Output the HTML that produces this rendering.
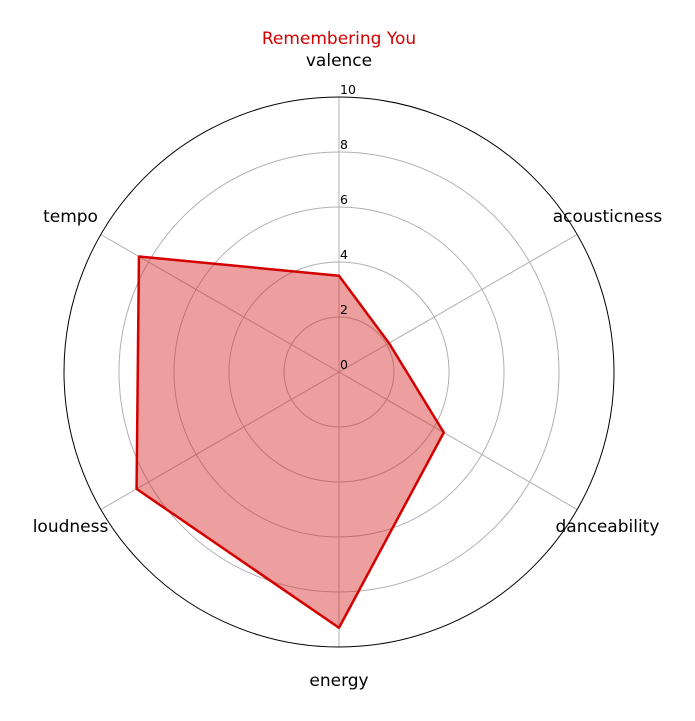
<!DOCTYPE html>
<html><head><meta charset="utf-8"><style>
body{margin:0;background:#fff;}
svg{display:block;font-family:"DejaVu Sans","Liberation Sans",sans-serif;}
</style></head><body>
<svg id="chart" width="695" height="721"></svg>
<script>
const categories=["valence","acousticness","danceability","energy","loudness","tempo"];
const values=[3.5,2.1,4.4,9.3,8.5,8.4];
const ticks=[0,2,4,6,8,10];
const title="Remembering You";
const NS="http://www.w3.org/2000/svg";
const svg=document.getElementById("chart");
const cx=339,cy=372,R=275,vmax=10;
function rScale(v){return v/vmax*R;}
function ang(i){return -Math.PI/2+i*2*Math.PI/categories.length;}
function pt(i,v){const a=ang(i),r=rScale(v);return [cx+r*Math.cos(a),cy+r*Math.sin(a)];}
function mk(tag,attrs,txt){const e=document.createElementNS(NS,tag);for(const k in attrs)e.setAttribute(k,attrs[k]);if(txt!==undefined)e.textContent=txt;svg.appendChild(e);return e;}
ticks.forEach(t=>{if(t>0&&t<vmax){const c=mk("circle",{cx:cx,cy:cy,r:rScale(t),fill:"none",stroke:"#b0b0b0","stroke-width":1});

}});
categories.forEach((c,i)=>{const p=pt(i,vmax);const l=mk("line",{x1:cx,y1:cy,x2:p[0],y2:p[1],stroke:"#b0b0b0","stroke-width":1});

});
const outer=mk("circle",{cx:cx,cy:cy,r:R,fill:"none",stroke:"#000","stroke-width":1});


const pts=values.map((v,i)=>pt(i,v).join(",")).join(" ");
const poly=mk("polygon",{points:pts,fill:"rgba(214,39,40,0.45)",stroke:"#d40000","stroke-width":2.5,"stroke-linejoin":"round"});


ticks.forEach(t=>{const tx=mk("text",{x:cx+1,y:cy-rScale(t)-3,"font-size":12.5,fill:"#000"},String(t));

});
categories.forEach((c,i)=>{const a=ang(i);const x=cx+310*Math.cos(a),y=cy+(Math.sin(a)>0?308:312)*Math.sin(a);
const tx=mk("text",{x:x,y:y+6,"font-size":17,"text-anchor":"middle",fill:"#000"},c);

});
const tt=mk("text",{x:cx,y:44,"font-size":17,"text-anchor":"middle",fill:"#d40000"},title);


</script>
</body></html>
